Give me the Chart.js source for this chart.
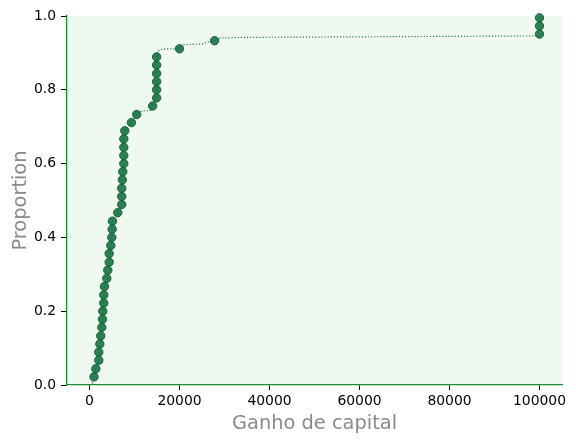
<!DOCTYPE html>
<html>
<head>
<meta charset="utf-8">
<script src="https://cdn.jsdelivr.net/npm/chart.js@4/dist/chart.umd.min.js"></script>
<style>
  html, body { margin: 0; padding: 0; background: #ffffff; }
  #wrap { width: 576px; height: 443px; }
</style>
</head>
<body>
<div id="wrap"><canvas id="c" width="576" height="443"></canvas></div>
<script>
// Sampled quantile points (scatter markers)
const pointX = [1000, 1400, 2060, 2060, 2290, 2500, 2730, 2880, 2950, 3170,
                3170, 3330, 3840, 4060, 4370, 4370, 4730, 4950, 5030, 5100,
                6280, 7160, 7160, 7160, 7300, 7400, 7620, 7620, 7620, 7620,
                7840, 9310, 10490, 14040, 14920, 14920, 14920, 14920, 14920, 14920,
                20000, 27800, 100000, 100000, 100000];
const pointY = [0.022, 0.044, 0.067, 0.089, 0.111, 0.133, 0.156, 0.178, 0.200, 0.222,
                0.244, 0.267, 0.289, 0.311, 0.333, 0.356, 0.378, 0.400, 0.422, 0.444,
                0.467, 0.489, 0.511, 0.533, 0.556, 0.578, 0.600, 0.622, 0.644, 0.667,
                0.689, 0.711, 0.733, 0.756, 0.778, 0.800, 0.822, 0.844, 0.867, 0.889,
                0.911, 0.933, 0.951, 0.973, 0.995];

// Full ECDF curve (dotted line)
const curveX = [0, 600, 1000, 1400, 2060, 2060, 2290, 2500, 2730, 2880, 2950, 3170, 3170, 3330,
                3840, 4060, 4370, 4370, 4730, 4950, 5030, 5100, 6280, 7160, 7160, 7300, 7400,
                7620, 7620, 7840, 9310, 10490, 11500, 13500, 14040, 14920, 14920, 15200, 16400,
                20000, 20500, 25000, 26400, 27800, 28500, 34000, 100000];
const curveY = [0.000, 0.005, 0.022, 0.044, 0.067, 0.089, 0.111, 0.133, 0.156, 0.178, 0.200, 0.222, 0.244, 0.267,
                0.289, 0.311, 0.333, 0.356, 0.378, 0.400, 0.422, 0.444, 0.467, 0.489, 0.533, 0.556, 0.578,
                0.600, 0.667, 0.689, 0.711, 0.733, 0.742, 0.744, 0.756, 0.778, 0.889, 0.905, 0.911,
                0.911, 0.922, 0.924, 0.930, 0.933, 0.940, 0.942, 0.946];

const xTicks = [0, 20000, 40000, 60000, 80000, 100000];
const yTicks = [0.0, 0.2, 0.4, 0.6, 0.8, 1.0];

const xLabel = 'Ganho de capital';
const yLabel = 'Proportion';

const FONT = 'DejaVu Sans';
const GREEN_SPINE = '#1f8a2c';
const MARK = 'rgba(22,114,66,0.9)';
const MARK_EDGE = 'rgba(18,96,56,0.95)';

const bgPlugin = {
  id: 'plotBg',
  beforeDraw(chart) {
    const {ctx, chartArea: a} = chart;
    ctx.save();
    ctx.fillStyle = '#ffffff';
    ctx.fillRect(0, 0, chart.width, chart.height);
    ctx.fillStyle = '#eff9f0';
    ctx.fillRect(a.left, a.top, a.right - a.left, a.bottom - a.top);
    ctx.restore();
  }
};

new Chart(document.getElementById('c'), {
  type: 'scatter',
  data: {
    datasets: [
      {
        type: 'line',
        data: curveX.map((x, i) => ({x: x, y: curveY[i]})),
        borderColor: 'rgba(22,114,66,0.95)',
        borderWidth: 1.2,
        borderDash: [1.2, 1.9],
        pointRadius: 0,
        fill: false,
        tension: 0,
        order: 2
      },
      {
        data: pointX.map((x, i) => ({x: x, y: pointY[i]})),
        backgroundColor: MARK,
        borderColor: MARK_EDGE,
        borderWidth: 1,
        pointRadius: 4.2,
        clip: false,
        order: 1
      }
    ]
  },
  options: {
    responsive: false,
    animation: false,
    devicePixelRatio: 1,
    layout: { padding: { left: 0, right: 14, top: 16, bottom: 0 } },
    plugins: { legend: { display: false }, tooltip: { enabled: false } },
    scales: {
      x: {
        type: 'linear',
        min: -5000,
        max: 105000,
        afterBuildTicks: s => { s.ticks = xTicks.map(v => ({value: v})); },
        afterFit: s => { s.height = 58; },
        ticks: {
          color: '#000',
          font: { family: FONT, size: 13.9 },
          padding: 3,
          maxRotation: 0,
          autoSkip: false,
          callback: v => String(v)
        },
        grid: { drawOnChartArea: false, drawTicks: true, tickLength: 5, tickColor: '#000', tickWidth: 1 },
        border: { display: true, color: GREEN_SPINE, width: 1.3 },
        title: {
          display: true, text: xLabel, color: '#8a8a8a',
          font: { family: FONT, size: 19.4 },
          padding: { top: 0, bottom: 7 }
        }
      },
      y: {
        type: 'linear',
        min: 0,
        max: 1,
        afterBuildTicks: s => { s.ticks = yTicks.map(v => ({value: v})); },
        afterFit: s => { s.width = 67; },
        ticks: {
          color: '#000',
          font: { family: FONT, size: 13.9 },
          padding: 5,
          autoSkip: false,
          callback: v => Number(v).toFixed(1)
        },
        grid: { drawOnChartArea: false, drawTicks: true, tickLength: 6, tickColor: '#000', tickWidth: 1 },
        border: { display: true, color: GREEN_SPINE, width: 1.3 },
        title: {
          display: true, text: yLabel, color: '#8a8a8a',
          font: { family: FONT, size: 19.4 },
          padding: { top: 9, bottom: 0 }
        }
      }
    }
  },
  plugins: [bgPlugin]
});
</script>
</body>
</html>
